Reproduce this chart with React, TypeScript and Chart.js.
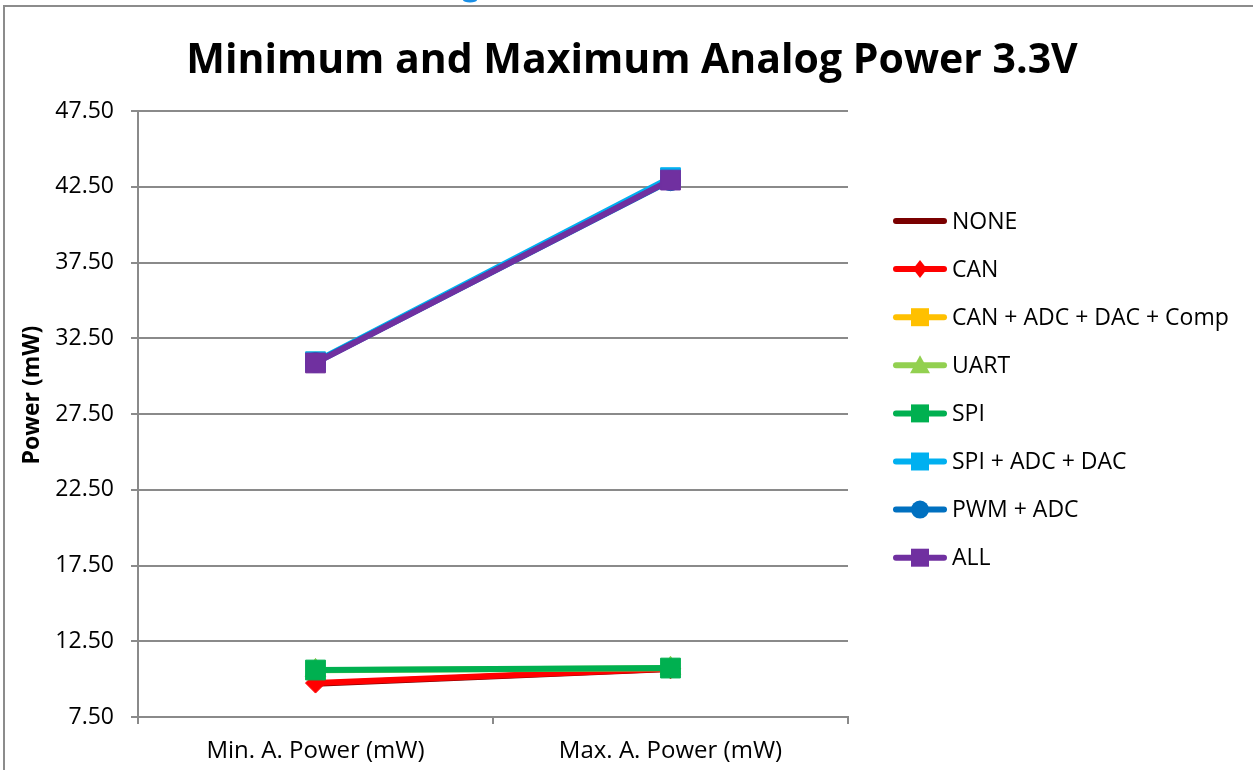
import React, { useEffect, useRef } from "react";
import { Chart, registerables } from "chart.js";

Chart.register(...registerables);

// ---- Data ----
const categories = ["Min. A. Power (mW)", "Max. A. Power (mW)"];
const seriesNames = [
  "NONE",
  "CAN",
  "CAN + ADC + DAC + Comp",
  "UART",
  "SPI",
  "SPI + ADC + DAC",
  "PWM + ADC",
  "ALL",
];
const noneValues = [9.7, 10.66];
const canValues = [9.74, 10.68];
const canAdcDacCompValues = [30.92, 42.98];
const uartValues = [10.58, 10.72];
const spiValues = [10.6, 10.73];
const spiAdcDacValues = [30.95, 43.1];
const pwmAdcValues = [30.9, 42.9];
const allValues = [30.87, 42.94];
const yTickValues = [7.5, 12.5, 17.5, 22.5, 27.5, 32.5, 37.5, 42.5, 47.5];

const chartTitle = "Minimum and Maximum Analog Power 3.3V";
const yAxisTitle = "Power (mW)";

// ---- Styles ----
const seriesColors = [
  "#7A0000",
  "#FF0000",
  "#FFC000",
  "#92D050",
  "#00B050",
  "#00B0F0",
  "#0070C0",
  "#7030A0",
];
const seriesMarkers = ["none", "rectRot", "rect", "triangle", "rect", "rect", "circle", "rect"];
const markerRadius: Record<string, number> = {
  none: 0,
  rectRot: 10,
  rect: 14,
  triangle: 12,
  circle: 10,
};

const FONT = '"Open Sans", "DejaVu Sans", sans-serif';
const GRID = "#8a8a8a";

function drawMarker(ctx: CanvasRenderingContext2D, kind: string, x: number, y: number, color: string) {
  ctx.save();
  ctx.fillStyle = color;
  ctx.beginPath();
  if (kind === "rect") {
    ctx.rect(x - 9, y - 9, 18, 18);
  } else if (kind === "rectRot") {
    ctx.moveTo(x, y - 9);
    ctx.lineTo(x + 7, y);
    ctx.lineTo(x, y + 9);
    ctx.lineTo(x - 7, y);
    ctx.closePath();
  } else if (kind === "triangle") {
    ctx.moveTo(x, y - 10);
    ctx.lineTo(x + 10, y + 8);
    ctx.lineTo(x - 10, y + 8);
    ctx.closePath();
  } else if (kind === "circle") {
    ctx.arc(x, y, 9, 0, Math.PI * 2);
  } else {
    ctx.restore();
    return;
  }
  ctx.fill();
  ctx.restore();
}

const decorPlugin = {
  id: "decor",
  beforeDraw(chart: any) {
    const ctx = chart.ctx as CanvasRenderingContext2D;
    ctx.save();
    ctx.fillStyle = "#ffffff";
    ctx.fillRect(0, 0, chart.width, chart.height);
    // outer chart border
    ctx.strokeStyle = "#8c8c8c";
    ctx.lineWidth = 2;
    ctx.strokeRect(4, 6, chart.width + 20, chart.height + 20);
    // cut-off fragment from above
    ctx.fillStyle = "#1a8fe6";
    ctx.beginPath();
    ctx.ellipse(470, 0, 7, 2.5, 0, 0, Math.PI * 2);
    ctx.fill();
    ctx.restore();
  },
  afterDraw(chart: any) {
    const ctx = chart.ctx as CanvasRenderingContext2D;
    ctx.save();
    // title
    ctx.fillStyle = "#000";
    ctx.font = `bold 41px ${FONT}`;
    ctx.textAlign = "center";
    ctx.textBaseline = "alphabetic";
    ctx.fillText(chartTitle, 632, 73);
    // y axis title
    ctx.save();
    ctx.translate(32, 395);
    ctx.rotate(-Math.PI / 2);
    ctx.font = `bold 23px ${FONT}`;
    ctx.textAlign = "center";
    ctx.textBaseline = "middle";
    ctx.fillText(yAxisTitle, 0, 0);
    ctx.restore();
    // legend
    const lx0 = chart.chartArea.right + 45;
    const lx1 = lx0 + 54;
    const ly0 = 221;
    const step = 48.1;
    ctx.font = `23px ${FONT}`;
    ctx.textAlign = "left";
    ctx.textBaseline = "middle";
    chart.data.datasets.forEach((ds: any, i: number) => {
      const y = ly0 + i * step;
      const color = seriesColors[i];
      ctx.strokeStyle = color;
      ctx.lineWidth = 6;
      ctx.lineCap = "round";
      ctx.beginPath();
      ctx.moveTo(lx0 + 3, y);
      ctx.lineTo(lx1 - 3, y);
      ctx.stroke();
      drawMarker(ctx, seriesMarkers[i], (lx0 + lx1) / 2, y, color);
      ctx.fillStyle = "#000";
      ctx.fillText(ds.label, lx1 + 5, y + 1);
    });
    ctx.restore();
  },
};

const seriesValues = [
  noneValues,
  canValues,
  canAdcDacCompValues,
  uartValues,
  spiValues,
  spiAdcDacValues,
  pwmAdcValues,
  allValues,
];

export default function App() {
  const canvasRef = useRef<HTMLCanvasElement | null>(null);

  useEffect(() => {
    if (!canvasRef.current) return;
    const datasets = seriesNames.map((name, i) => {
      const marker = seriesMarkers[i];
      const r = markerRadius[marker];
      return {
        label: name,
        data: seriesValues[i],
        borderColor: seriesColors[i],
        backgroundColor: seriesColors[i],
        borderWidth: 6,
        borderCapStyle: "round" as const,
        borderJoinStyle: "round" as const,
        pointStyle: marker === "none" ? false : (marker as any),
        pointRadius: r,
        pointHoverRadius: r,
        pointBorderWidth: 1,
        pointBorderColor: seriesColors[i],
        pointBackgroundColor: seriesColors[i],
        tension: 0,
        order: seriesNames.length - 1 - i,
      };
    });

    const chart = new Chart(canvasRef.current, {
      type: "line",
      data: { labels: categories, datasets },
      options: {
        responsive: false,
        animation: false,
        devicePixelRatio: 1,
        layout: { padding: { top: 111, right: 405, left: 0, bottom: 0 } },
        plugins: {
          legend: { display: false },
          title: { display: false },
          tooltip: { enabled: false },
        },
        scales: {
          x: {
            type: "category",
            offset: true,
            grid: {
              offset: true,
              drawOnChartArea: false,
              drawTicks: true,
              tickLength: 7,
              color: GRID,
              lineWidth: 2,
            },
            border: { color: GRID, width: 2 },
            ticks: {
              color: "#000",
              font: { family: FONT, size: 24 },
              padding: 13,
              maxRotation: 0,
            },
            afterFit: (s: any) => {
              s.height = 53;
            },
          },
          y: {
            type: "linear",
            min: 7.5,
            max: 47.5,
            afterBuildTicks: (s: any) => {
              s.ticks = yTickValues.map((v) => ({ value: v }));
            },
            ticks: {
              color: "#000",
              font: { family: FONT, size: 23 },
              padding: 17,
              callback: (v: any) => Number(v).toFixed(2),
            },
            grid: {
              color: GRID,
              lineWidth: 2,
              tickLength: 7,
              drawTicks: true,
            },
            border: { color: GRID, width: 2 },
            title: { display: false },
            afterFit: (s: any) => {
              s.width = 138;
            },
          },
        },
      },
      plugins: [decorPlugin],
    });
    return () => chart.destroy();
  }, []);

  return (
    <div style={{ position: "fixed", left: 0, top: 0, width: 1253, height: 770, background: "#fff" }}>
      <canvas ref={canvasRef} width={1253} height={770} style={{ display: "block" }} />
    </div>
  );
}
